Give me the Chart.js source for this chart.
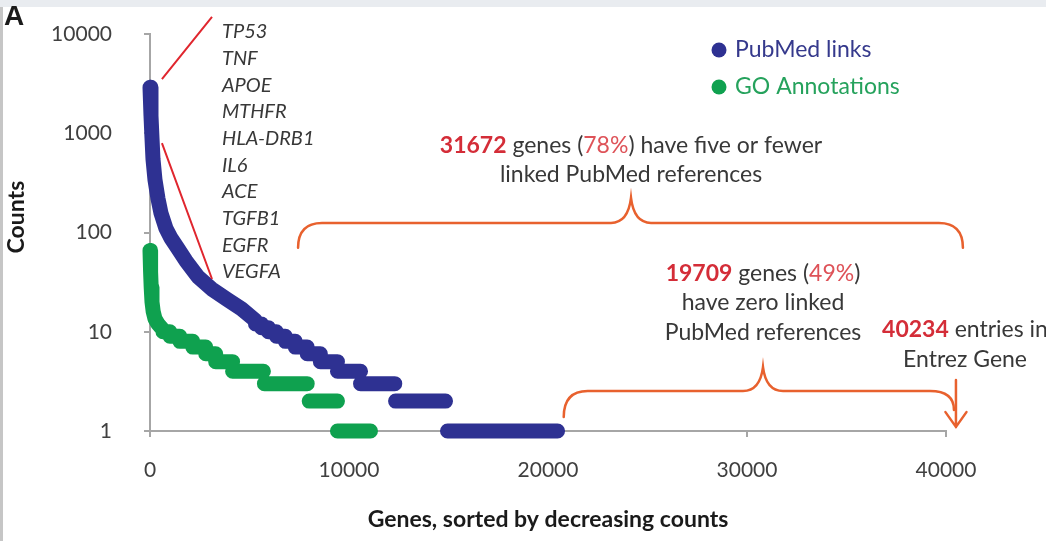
<!DOCTYPE html>
<html>
<head>
<meta charset="utf-8">
<script src="https://cdn.jsdelivr.net/npm/chart.js@4.4.1/dist/chart.umd.min.js"></script>
<style>
  html, body { margin: 0; padding: 0; background: #fff; }
  canvas { display: block; }
</style>
</head>
<body>
<canvas id="geneChart" width="1046" height="541"></canvas>
<script>
// Tick values
const geneTicks = [0, 10000, 20000, 30000, 40000];
const countTicks = [1, 10, 100, 1000, 10000];

// PubMed links: steep head of the curve, then integer plateaus
const pubmedCurveGene  = [0, 50, 100, 150, 250, 400, 550, 800, 1050, 1360, 1800, 2400, 3100, 3900, 4600, 5300];
const pubmedCurveCount = [2900, 1500, 900, 550, 340, 220, 157, 110, 88, 71, 52, 36, 27, 21, 17, 13];
const pubmedStepCount  = [12, 11, 10, 9, 8, 7, 6, 5, 4, 3, 2, 1];
const pubmedStepStart  = [5300, 5600, 5950, 6350, 6800, 7300, 7900, 8560, 9420, 10580, 12340, 14950];
const pubmedStepEnd    = [5600, 5950, 6350, 6800, 7300, 7900, 8560, 9420, 10580, 12300, 14850, 20480];

// GO annotations
const goCurveGene  = [0, 30, 60, 100, 160, 250, 400, 650];
const goCurveCount = [66, 40, 28, 20, 16, 13.5, 12, 10.5];
const goStepCount  = [10, 9, 8, 7, 6, 5, 4, 3, 2, 1];
const goStepStart  = [650, 1000, 1500, 2150, 2800, 3300, 4150, 5750, 8000, 9420];
const goStepEnd    = [1000, 1500, 2150, 2800, 3300, 4150, 5700, 7900, 9420, 11080];

const seriesNames = ['PubMed links', 'GO Annotations'];
const topGenes = ['TP53', 'TNF', 'APOE', 'MTHFR', 'HLA-DRB1', 'IL6', 'ACE', 'TGFB1', 'EGFR', 'VEGFA'];

const BLUE = '#2e3192';
const GREEN = '#0fa14f';
const BRACE = '#e8612e';
const RED = '#d42d38';
const RED_LIGHT = '#de5258';
const TEXT = '#383838';
const AXIS = '#a6a6a6';
const FONT = 'Lato, "Open Sans", sans-serif';

// curve points, then each plateau as its own piece (null y breaks the line)
function seriesPoints(curveX, curveY, stepY, stepStart, stepEnd) {
    const pts = curveX.map((x, i) => ({ x: x, y: curveY[i] }));
    stepY.forEach((v, i) => {
        pts.push({ x: stepStart[i], y: null });
        pts.push({ x: stepStart[i], y: v });
        pts.push({ x: stepEnd[i], y: v });
    });
    return pts;
}

function richLine(ctx, parts, cx, cy) {
    let total = 0;
    parts.forEach(p => {
        ctx.font = p.font;
        p.w = ctx.measureText(p.text).width;
        total += p.w;
    });
    let x = cx - total / 2;
    ctx.textAlign = 'left';
    ctx.textBaseline = 'middle';
    parts.forEach(p => {
        ctx.font = p.font;
        ctx.fillStyle = p.color;
        ctx.fillText(p.text, x, cy);
        x += p.w;
    });
}

// horizontal curly brace, ends curl down, cusp points up
function drawBrace(ctx, x0, x1, xm, yTip, yH, yPeak, r, rightCurl) {
    ctx.beginPath();
    ctx.moveTo(x0, yTip);
    ctx.quadraticCurveTo(x0, yH, x0 + r, yH);
    ctx.lineTo(xm - 20, yH);
    ctx.quadraticCurveTo(xm - 3, yH, xm, yPeak);
    ctx.quadraticCurveTo(xm + 3, yH, xm + 20, yH);
    ctx.lineTo(x1 - r, yH);
    ctx.quadraticCurveTo(x1, yH, x1, rightCurl);
    ctx.stroke();
}

const annotate = {
    id: 'annotate',
    beforeDraw(chart) {
        const ctx = chart.ctx;
        ctx.save();
        ctx.fillStyle = '#ffffff';
        ctx.fillRect(0, 0, chart.width, chart.height);
        ctx.fillStyle = '#e9ecf0';
        ctx.fillRect(0, 0, chart.width, 7);
        ctx.fillStyle = '#c6c6c6';
        ctx.fillRect(0, 7, 3, chart.height - 7);
        ctx.restore();
    },
    afterDraw(chart) {
        const ctx = chart.ctx;
        const xs = chart.scales.x, ys = chart.scales.y;
        const px = g => xs.getPixelForValue(g);
        const py = c => ys.getPixelForValue(c);
        ctx.save();

        // panel letter
        ctx.fillStyle = '#1a1a1a';
        ctx.font = 'bold 28px "Liberation Sans", Arial, sans-serif';
        ctx.textAlign = 'left';
        ctx.textBaseline = 'alphabetic';
        ctx.fillText('A', 4, 25);

        // y axis title
        ctx.save();
        ctx.translate(17, py(143));
        ctx.rotate(-Math.PI / 2);
        ctx.font = 'bold 23px ' + FONT;
        ctx.fillStyle = '#1a1a1a';
        ctx.textAlign = 'center';
        ctx.textBaseline = 'middle';
        ctx.fillText('Counts', 0, 0);
        ctx.restore();

        // lines from the gene list to the curve
        ctx.strokeStyle = '#e0262e';
        ctx.lineWidth = 2;
        ctx.beginPath();
        ctx.moveTo(px(600), py(3520));
        ctx.lineTo(px(3116), py(14850));
        ctx.moveTo(px(600), py(797));
        ctx.lineTo(px(3116), py(34));
        ctx.stroke();

        // gene list
        ctx.font = 'italic 20px ' + FONT;
        ctx.fillStyle = TEXT;
        ctx.textAlign = 'left';
        ctx.textBaseline = 'middle';
        const gy0 = py(10550);
        topGenes.forEach((g, i) => ctx.fillText(g, px(3618), gy0 + i * 26.7));

        // legend
        const legendRows = [[seriesNames[0], BLUE, '#35398c', 6900], [seriesNames[1], GREEN, '#25a25c', 2925]];
        legendRows.forEach(([name, dot, col, c]) => {
            ctx.fillStyle = dot;
            ctx.beginPath();
            ctx.arc(px(28593), py(c), 7.5, 0, Math.PI * 2);
            ctx.fill();
            ctx.font = '23px ' + FONT;
            ctx.fillStyle = col;
            ctx.textAlign = 'left';
            ctx.textBaseline = 'middle';
            ctx.fillText(name, px(29400), py(c));
        });

        // braces and arrow
        ctx.strokeStyle = BRACE;
        ctx.lineWidth = 2.5;
        ctx.lineCap = 'round';
        drawBrace(ctx, px(7440), px(40850), px(24171), py(70), py(125), py(223), 24, py(70));
        drawBrace(ctx, px(20790), px(40400), px(30804), py(1.38), py(2.53), py(4.4), 24, py(1.63));
        const ax = px(40500);
        ctx.beginPath();
        ctx.moveTo(ax, py(3.26));
        ctx.lineTo(ax, py(1.1));
        ctx.moveTo(ax - 10.5, py(1.55));
        ctx.lineTo(ax, py(1.1));
        ctx.lineTo(ax + 10.5, py(1.55));
        ctx.stroke();

        // annotation text
        const f = '23px ' + FONT;
        const fb = 'bold 23px ' + FONT;
        richLine(ctx, [
            { text: '31672', font: fb, color: RED },
            { text: ' genes (', font: f, color: TEXT },
            { text: '78%', font: f, color: RED_LIGHT },
            { text: ') have five or fewer', font: f, color: TEXT }
        ], px(24171), py(745));
        richLine(ctx, [{ text: 'linked PubMed references', font: f, color: TEXT }], px(24171), py(380));

        richLine(ctx, [
            { text: '19709', font: fb, color: RED },
            { text: ' genes (', font: f, color: TEXT },
            { text: '49%', font: f, color: RED_LIGHT },
            { text: ')', font: f, color: TEXT }
        ], px(30804), py(39));
        richLine(ctx, [{ text: 'have zero linked', font: f, color: TEXT }], px(30804), py(19.5));
        richLine(ctx, [{ text: 'PubMed references', font: f, color: TEXT }], px(30804), py(9.9));

        richLine(ctx, [
            { text: '40234', font: fb, color: RED },
            { text: ' entries in', font: f, color: TEXT }
        ], px(40955), py(10.4));
        richLine(ctx, [{ text: 'Entrez Gene', font: f, color: TEXT }], px(40955), py(5.2));

        ctx.restore();
    }
};

const lineStyle = {
    showLine: true,
    borderWidth: 15,
    borderCapStyle: 'round',
    borderJoinStyle: 'round',
    pointRadius: 0,
    spanGaps: false,
    clip: false,
    tension: 0
};

new Chart(document.getElementById('geneChart'), {
    type: 'scatter',
    data: {
        datasets: [
            Object.assign({
                label: seriesNames[1],
                data: seriesPoints(goCurveGene, goCurveCount, goStepCount, goStepStart, goStepEnd),
                borderColor: GREEN,
                backgroundColor: GREEN
            }, lineStyle),
            Object.assign({
                label: seriesNames[0],
                data: seriesPoints(pubmedCurveGene, pubmedCurveCount, pubmedStepCount, pubmedStepStart, pubmedStepEnd),
                borderColor: BLUE,
                backgroundColor: BLUE
            }, lineStyle)
        ]
    },
    options: {
        responsive: false,
        animation: false,
        events: [],
        layout: { padding: { top: 34, right: 100, left: 0, bottom: 0 } },
        plugins: {
            legend: { display: false },
            tooltip: { enabled: false }
        },
        scales: {
            x: {
                type: 'linear',
                min: 0,
                max: 40000,
                afterFit: s => { s.height = 110; },
                afterBuildTicks: s => { s.ticks = geneTicks.map(v => ({ value: v })); },
                ticks: {
                    callback: v => String(v),
                    font: { family: FONT, size: 21 },
                    color: '#404040',
                    padding: 21,
                    maxRotation: 0
                },
                grid: { drawOnChartArea: false, drawTicks: true, tickLength: 6, color: AXIS, lineWidth: 2 },
                border: { color: AXIS, width: 2 },
                title: {
                    display: true,
                    text: 'Genes, sorted by decreasing counts',
                    font: { family: FONT, size: 23, weight: 'bold' },
                    color: '#1a1a1a',
                    padding: { top: 0, bottom: 8 }
                }
            },
            y: {
                type: 'logarithmic',
                min: 1,
                max: 10000,
                // fixed width; the label gap must not push the plot down
                afterFit: s => { s.width = 150; s.paddingTop = 0; s.paddingBottom = 0; },
                afterBuildTicks: s => { s.ticks = countTicks.map(v => ({ value: v })); },
                ticks: {
                    callback: v => String(v),
                    font: { family: FONT, size: 21 },
                    color: '#404040',
                    padding: 32
                },
                grid: { drawOnChartArea: false, drawTicks: true, tickLength: 6, color: AXIS, lineWidth: 2 },
                border: { color: AXIS, width: 2 }
            }
        }
    },
    plugins: [annotate]
});
</script>
</body>
</html>
